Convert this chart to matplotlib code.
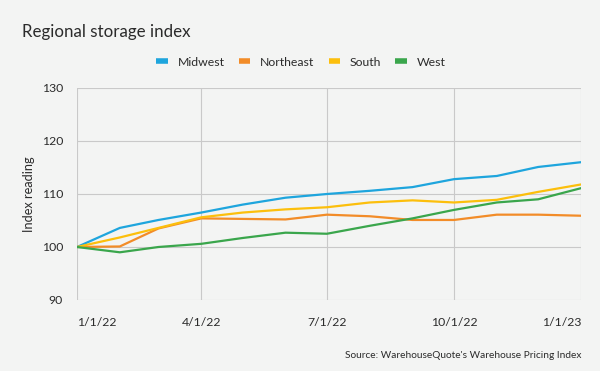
import matplotlib
matplotlib.use("Agg")
import matplotlib.pyplot as plt
import pandas as pd

dates = pd.date_range("2022-01-01", "2023-01-01", freq="MS")
midwest = [100, 103.6, 105.1, 106.5, 108.0, 109.3, 110.0, 110.6, 111.3, 112.8, 113.4, 115.1, 116.0]
northeast = [100, 100.1, 103.5, 105.4, 105.3, 105.2, 106.1, 105.8, 105.1, 105.1, 106.1, 106.1, 105.9]
south = [100, 101.8, 103.6, 105.6, 106.5, 107.1, 107.5, 108.4, 108.8, 108.4, 108.9, 110.4, 111.8]
west = [100, 99.0, 100.0, 100.6, 101.7, 102.7, 102.5, 104.0, 105.4, 107.0, 108.4, 109.0, 111.1]
series_names = ["Midwest", "Northeast", "South", "West"]
tick_dates = pd.to_datetime(["2022-01-01", "2022-04-01", "2022-07-01", "2022-10-01", "2023-01-01"])
tick_labels = ["1/1/22", "4/1/22", "7/1/22", "10/1/22", "1/1/23"]
y_ticks = [90, 100, 110, 120, 130]

colors = ["#1ea5dd", "#f28c28", "#fcbf0c", "#3aa64c"]
bg = "#f3f4f3"
txt = "#2b2b2b"
font = "Lato"

fig = plt.figure(figsize=(6, 3.71), dpi=100, facecolor=bg)
ax = fig.add_axes([77/600, 1-300/371, 504/600, 212/371], facecolor=bg)

for vals, name, c in zip([midwest, northeast, south, west], series_names, colors):
    ax.plot(dates, vals, color=c, lw=1.6, label=name, solid_capstyle="round", zorder=3)

ax.set_xlim(tick_dates[0], tick_dates[-1])
ax.set_ylim(90, 130)
ax.set_xticks(tick_dates)
ax.set_xticklabels(tick_labels)
ax.set_yticks(y_ticks)
ax.grid(True, color="#c9c9c9", lw=0.8, zorder=0)
for s in ax.spines.values():
    s.set_visible(False)
ax.tick_params(length=0, labelsize=8.8, labelcolor=txt, pad=10)
ax.tick_params(axis="x", pad=12)
for lab in ax.get_xticklabels() + ax.get_yticklabels():
    lab.set_fontfamily(font)
xl = ax.get_xticklabels()
xl[0].set_ha("left")
xl[-1].set_ha("right")

ax.set_ylabel("Index reading", fontsize=9.2, color=txt, family=font, labelpad=5)

fig.text(22/600, 1-32/371, "Regional storage index", fontsize=12.2, color=txt, family=font, va="center", ha="left")
fig.text(581/600, 1-355/371, "Source: WarehouseQuote's Warehouse Pricing Index", fontsize=7.3, color=txt, family=font, va="center", ha="right")

leg = fig.legend(loc="center", bbox_to_anchor=(301/600, 1-62/371), ncol=4, frameon=False,
                 handlelength=0.95, handletextpad=0.8, columnspacing=1.15,
                 prop={"family": font, "size": 8.8})
for h in leg.get_lines():
    h.set_linewidth(4)
    h.set_solid_capstyle("butt")
for t in leg.get_texts():
    t.set_color(txt)

fig.savefig("out.png", dpi=100, facecolor=bg)
